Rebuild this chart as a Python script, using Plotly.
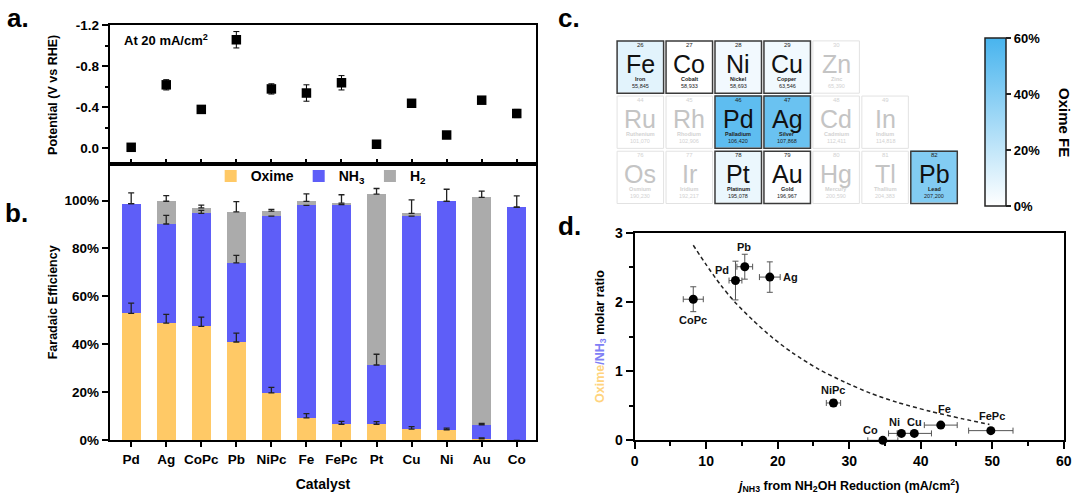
import plotly.graph_objects as go

FONT = "Liberation Sans, Arial, sans-serif"
W, H = 1080, 497

# ---------------- data ----------------
catalysts = ['Pd', 'Ag', 'CoPc', 'Pb', 'NiPc', 'Fe', 'FePc', 'Pt', 'Cu', 'Ni', 'Au', 'Co']

# panel a: potential at 20 mA/cm2
potential = [-0.01, -0.62, -0.38, -1.06, -0.58, -0.54, -0.64, -0.04, -0.44, -0.13, -0.47, -0.34]
potential_err = [0.01, 0.05, 0.03, 0.08, 0.05, 0.08, 0.07, 0.01, 0.01, 0.01, 0.02, 0.04]

# panel b: Faradaic efficiencies (%)
fe_oxime = [52.9, 48.9, 47.5, 41.0, 19.8, 9.4, 6.7, 6.7, 4.7, 4.4, 0.6, 0.0]
fe_nh3 = [45.8, 41.3, 47.1, 33.0, 73.7, 88.6, 91.6, 24.7, 88.8, 95.2, 5.9, 97.2]
fe_h2 = [0.0, 9.5, 2.3, 21.3, 2.1, 1.6, 0.6, 71.3, 1.1, 0.0, 94.8, 0.0]
err_oxime = [4.3, 3.6, 3.9, 3.7, 2.3, 1.7, 1.2, 1.1, 1.0, 0.7, 0.4, 0.0]
err_nh3 = [4.5, 3.6, 1.3, 3.1, 0.0, 0.0, 0.0, 4.5, 0.0, 5.1, 0.6, 4.7]
err_h2 = [0.0, 2.3, 1.2, 4.2, 0.7, 3.2, 3.5, 2.3, 5.7, 0.0, 2.6, 0.0]
fe_ticks = [0, 20, 40, 60, 80, 100]

# panel c: periodic table
el_symbol = ['Fe', 'Co', 'Ni', 'Cu', 'Zn', 'Ru', 'Rh', 'Pd', 'Ag', 'Cd', 'In',
             'Os', 'Ir', 'Pt', 'Au', 'Hg', 'Tl', 'Pb']
el_number = [26, 27, 28, 29, 30, 44, 45, 46, 47, 48, 49, 76, 77, 78, 79, 80, 81, 82]
el_name = ['Iron', 'Cobalt', 'Nickel', 'Copper', 'Zinc', 'Ruthenium', 'Rhodium', 'Palladium',
           'Silver', 'Cadmium', 'Indium', 'Osmium', 'Iridium', 'Platinum', 'Gold', 'Mercury',
           'Thallium', 'Lead']
el_mass = ['55,845', '58,933', '58,693', '63,546', '65,390', '101,070', '102,906', '106,420',
           '107,868', '112,411', '114,818', '190,230', '192,217', '195,078', '196,967',
           '200,590', '204,383', '207,200']
el_group = [8, 9, 10, 11, 12, 8, 9, 10, 11, 12, 13, 8, 9, 10, 11, 12, 13, 14]
el_row = [1, 1, 1, 1, 1, 2, 2, 2, 2, 2, 2, 3, 3, 3, 3, 3, 3, 3]
group_labels = [8, 9, 10, 11, 12, 13, 14]
cbar_ticks = [0, 20, 40, 60]

# panel d: oxime/NH3 ratio vs j_NH3
d_names = ['CoPc', 'Pd', 'Pb', 'Ag', 'NiPc', 'Co', 'Ni', 'Cu', 'Fe', 'FePc']
d_j = [8.2, 14.1, 15.4, 18.9, 27.8, 34.7, 37.3, 39.1, 42.8, 49.8]
d_ratio = [2.04, 2.31, 2.51, 2.36, 0.54, 0.0, 0.10, 0.10, 0.22, 0.14]
d_jerr = [1.4, 0.9, 1.1, 1.45, 1.0, 2.1, 1.8, 2.4, 2.3, 3.1]
d_rerr = [0.18, 0.28, 0.18, 0.22, 0.05, 0.0, 0.02, 0.02, 0.03, 0.02]
fit_x = [8.2, 10.0, 12.0, 14.0, 16.5, 19.2, 22.0, 25.7, 29.4, 33.0, 36.7, 41.3, 45.9, 49.6]
fit_y = [2.82, 2.54, 2.25, 2.00, 1.74, 1.49, 1.27, 1.03, 0.84, 0.68, 0.55, 0.42, 0.31, 0.23]
label_shift = {'CoPc': (0, -21), 'Pd': (-13, 11), 'Pb': (-1, 20), 'Ag': (21, 0),
               'NiPc': (0, 13), 'Co': (-12, 10), 'Ni': (-7, 11), 'Cu': (0, 11),
               'Fe': (4, 16), 'FePc': (1, 15)}

C_OX, C_NH3, C_H2 = '#FFC966', '#5E5EF8', '#ABABAB'


def px(v):
    return v / W


def py(v):
    return 1 - v / H


def nz(arr):
    return [v if v else None for v in arr]


fig = go.Figure()

# ---------------- panel a ----------------
fig.add_trace(go.Scatter(
    x=catalysts, y=potential, mode='markers', xaxis='x', yaxis='y',
    marker=dict(symbol='square', size=9.5, color='black'),
    error_y=dict(type='data', array=potential_err, color='black', thickness=1, width=3),
    showlegend=False, cliponaxis=False))

# ---------------- panel b ----------------
for name, vals, col in [('Oxime', fe_oxime, C_OX), ('NH<sub>3</sub>', fe_nh3, C_NH3),
                        ('H<sub>2</sub>', fe_h2, C_H2)]:
    fig.add_trace(go.Bar(x=catalysts, y=vals, name=name, marker=dict(color=col, line=dict(width=0)),
                         width=0.55, xaxis='x2', yaxis='y2'))

cum1 = fe_oxime
cum2 = [a + b for a, b in zip(fe_oxime, fe_nh3)]
cum3 = [a + b for a, b in zip(cum2, fe_h2)]
for tops, errs in [(cum1, err_oxime), (cum2, err_nh3), (cum3, err_h2)]:
    fig.add_trace(go.Scatter(
        x=catalysts, y=tops, mode='markers', xaxis='x2', yaxis='y2',
        marker=dict(size=1, opacity=0),
        error_y=dict(type='data', symmetric=False, array=nz(errs),
                     arrayminus=[0] * len(errs), color='#222222', thickness=1.3, width=3),
        showlegend=False, hoverinfo='skip'))

# ---------------- panel c ----------------
z = [[None] * len(group_labels) for _ in range(3)]
fe_map = dict(zip(catalysts, fe_oxime))
for s, g, r in zip(el_symbol, el_group, el_row):
    if s in fe_map:
        z[r - 1][group_labels.index(g)] = fe_map[s]

fig.add_trace(go.Heatmap(
    x=group_labels, y=[1, 2, 3], z=z, xaxis='x3', yaxis='y3',
    zmin=0, zmax=60, colorscale=[[0, '#FFFFFF'], [1, '#48B4EE']],
    xgap=2.5, ygap=3, hoverinfo='skip',
    colorbar=dict(x=px(992), xanchor='left', xpad=0, y=py(118), yanchor='middle',
                  len=168, lenmode='pixels', ypad=0, thickness=21,
                  outlinewidth=1.5, outlinecolor='#222222',
                  tickvals=cbar_ticks, ticktext=[f'{t}%' for t in cbar_ticks],
                  ticks='outside', ticklen=5, tickwidth=1.5, tickcolor='#222222',
                  tickfont=dict(family=FONT, size=13, color='black', weight='bold'))))

annotations = []
shapes = []
hw, hh = 0.475, 0.474
for s, n, nm, m, g, r in zip(el_symbol, el_number, el_name, el_mass, el_group, el_row):
    active = s in fe_map
    shapes.append(dict(type='rect', xref='x3', yref='y3', x0=g - hw, x1=g + hw, y0=r - hh, y1=r + hh,
                       line=dict(color='#3A3A3A' if active else '#E2E2E2', width=1.5 if active else 1),
                       fillcolor='rgba(0,0,0,0)', layer='above'))
    big = '#111111' if active else '#C4C4C4'
    small = '#222222' if active else '#D2D2D2'
    annotations += [
        dict(x=g, y=r, xref='x3', yref='y3', text=str(n), showarrow=False, yshift=22,
             font=dict(family=FONT, size=6, color=small)),
        dict(x=g, y=r, xref='x3', yref='y3', text=s, showarrow=False, yshift=3,
             font=dict(family=FONT, size=25, color=big)),
        dict(x=g, y=r, xref='x3', yref='y3', text=nm, showarrow=False, yshift=-12,
             font=dict(family=FONT, size=5.5, color=small, weight='bold')),
        dict(x=g, y=r, xref='x3', yref='y3', text=m, showarrow=False, yshift=-19,
             font=dict(family=FONT, size=5.5, color=small)),
    ]
for g in group_labels:
    annotations.append(dict(x=g, y=0.37, xref='x3', yref='y3', text=str(g), showarrow=False,
                            font=dict(family=FONT, size=6, color='#BBBBBB')))
annotations.append(dict(x=px(1063), y=py(118), xref='paper', yref='paper', text='Oxime FE',
                        textangle=90, showarrow=False, xanchor='center', yanchor='middle',
                        xshift=10,
                        font=dict(family=FONT, size=15, color='black', weight='bold')))

# ---------------- panel d ----------------
fig.add_trace(go.Scatter(
    x=fit_x, y=fit_y, mode='lines', xaxis='x4', yaxis='y4',
    line=dict(color='#222222', width=1.5, dash='4px,3px', shape='spline', smoothing=0.8),
    showlegend=False, hoverinfo='skip'))
fig.add_trace(go.Scatter(
    x=d_j, y=d_ratio, mode='markers', xaxis='x4', yaxis='y4',
    marker=dict(symbol='circle', size=9, color='black'),
    error_x=dict(type='data', array=d_jerr, color='#555555', thickness=1, width=3),
    error_y=dict(type='data', array=d_rerr, color='#555555', thickness=1, width=3),
    showlegend=False, cliponaxis=False))
for nm, xv, yv in zip(d_names, d_j, d_ratio):
    dx, dy = label_shift[nm]
    annotations.append(dict(x=xv, y=yv, xref='x4', yref='y4', text=nm, showarrow=False,
                            xshift=dx, yshift=dy,
                            font=dict(family=FONT, size=11, color='#111111', weight='bold')))

# ---------------- text ----------------
for lab, x, y in [('a.', 14, 10), ('b.', 13, 212), ('c.', 571, 10), ('d.', 572, 225)]:
    annotations.append(dict(x=px(x), y=py(y), xref='paper', yref='paper', text=lab, showarrow=False,
                            xanchor='center', yanchor='middle',
                            font=dict(family=FONT, size=26, color='black', weight='bold')))
annotations.append(dict(x=px(119), y=py(33), xref='paper', yref='paper', xanchor='left',
                        yanchor='middle', text='At 20 mA/cm<sup>2</sup>', showarrow=False,
                        font=dict(family=FONT, size=13, color='black', weight='bold')))

tick_font = dict(family=FONT, size=13.5, color='black', weight='bold')
title_font = dict(family=FONT, size=12.5, color='black', weight='bold')
ax_common = dict(showline=True, linewidth=2, linecolor='black', mirror=True, showgrid=False,
                 zeroline=False, tickcolor='black', tickwidth=1.5, tickfont=tick_font)

xdom = [px(107), px(538)]
xr = [-0.61, 11.55]

fig.update_layout(
    width=W, height=H, margin=dict(l=0, r=0, t=0, b=0),
    paper_bgcolor='white', plot_bgcolor='white',
    barmode='stack', bargap=0.45,
    font=dict(family=FONT, color='black'),
    showlegend=True,
    legend=dict(orientation='h', x=px(209), y=py(174), xanchor='left', yanchor='middle',
                bgcolor='rgba(0,0,0,0)', font=dict(family=FONT, size=14, color='black', weight='bold'),
                traceorder='normal'),
    xaxis=dict(ax_common, domain=xdom, anchor='y', type='category', categoryarray=catalysts,
               range=xr, ticks='inside', ticklen=5, showticklabels=False),
    yaxis=dict(ax_common, domain=[py(161.5), py(18)], anchor='x', range=[0.156, -1.2],
               tickvals=[-1.2, -0.8, -0.4, 0.0], ticktext=['-1.2', '-0.8', '-0.4', '0.0'],
               ticks='outside', ticklen=6,
               minor=dict(tickvals=[-1.0, -0.6, -0.2], ticks='outside', ticklen=3, tickcolor='black'),
               title=dict(text='Potential (V vs RHE)', font=title_font, standoff=15)),
    xaxis2=dict(ax_common, domain=xdom, anchor='y2', type='category', categoryarray=catalysts,
                range=xr, ticks='outside', ticklen=5,
                title=dict(text='Catalyst', font=dict(family=FONT, size=14, color='black', weight='bold'),
                           standoff=14)),
    yaxis2=dict(ax_common, domain=[py(446.7), py(161.5)], anchor='x2', range=[0, 115.1],
                tickvals=fe_ticks, ticktext=[f'{t}%' for t in fe_ticks], ticks='outside', ticklen=6,
                title=dict(text='Faradaic Efficiency', font=title_font, standoff=4)),
    xaxis3=dict(domain=[px(618.75), px(965.25)], anchor='y3', range=[7.5, 14.5], visible=False),
    yaxis3=dict(domain=[py(203.5), py(32.5)], anchor='x3', range=[3.5, 0.5], visible=False),
    xaxis4=dict(ax_common, domain=[px(637.7), px(1071.7)], anchor='y4', range=[0, 60],
                tickvals=[0, 10, 20, 30, 40, 50, 60], ticks='outside', ticklen=7,
                minor=dict(tickvals=[5, 15, 25, 35, 45, 55], ticks='outside', ticklen=4, tickcolor='black'),
                tickfont=dict(family=FONT, size=14, color='black', weight='bold'),
                title=dict(text='<i>j</i><sub>NH3</sub> from NH<sub>2</sub>OH Reduction (mA/cm<sup>2</sup>)',
                           font=dict(family=FONT, size=12.5, color='black', weight='bold'), standoff=13)),
    yaxis4=dict(ax_common, domain=[py(446.7), py(232.3)], anchor='x4', range=[0, 3],
                tickvals=[0, 1, 2, 3], ticks='outside', ticklen=7,
                minor=dict(tickvals=[0.5, 1.5, 2.5], ticks='outside', ticklen=4, tickcolor='black'),
                tickfont=dict(family=FONT, size=14, color='black', weight='bold'),
                title=dict(text='<span style="color:#FFD47E">Oxime</span><span style="color:#8080F5">/NH<sub>3</sub></span> molar ratio',
                           font=dict(family=FONT, size=12.5, color='black', weight='bold'), standoff=8)),
    annotations=annotations, shapes=shapes,
)

fig.write_html("out.html")
